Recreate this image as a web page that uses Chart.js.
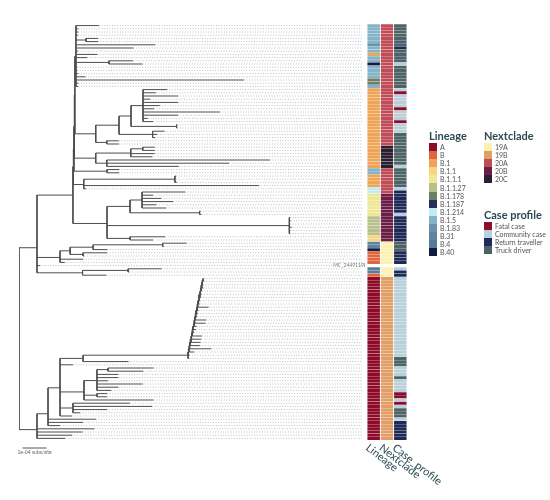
<!DOCTYPE html>
<html>
<head>
<meta charset="utf-8">
<script src="https://cdn.jsdelivr.net/npm/chart.js@4.4.1/dist/chart.umd.min.js"></script>
<style>
  body { margin: 0; background: #fff; font-family: Lato, "Open Sans", sans-serif; }
  #wrap { position: relative; width: 550px; height: 500px; overflow: hidden; }
  #tree { position: absolute; left: 0; top: 0; }
  #heat { position: absolute; left: 360px; top: 0; }
  .lg { position: absolute; color: #2d4a54; }
  .lg .t { font-size: 11px; font-weight: 700; line-height: 13px; height: 14px; white-space: nowrap; }
  .lg .it { display: flex; align-items: center; height: 8.1px; font-size: 7px; color: #555; white-space: nowrap; }
  .lg .sw { width: 8px; height: 8.1px; margin-right: 3px; flex: none; }
</style>
</head>
<body>
<div id="wrap">
  <canvas id="tree" width="365" height="500"></canvas>
  <canvas id="heat" width="100" height="500"></canvas>
  <div class="lg" id="lgLineage" style="left:429px;top:129px"></div>
  <div class="lg" id="lgNext" style="left:484px;top:129px"></div>
  <div class="lg" id="lgCase" style="left:484px;top:208px"></div>
</div>
<script>
document.addEventListener("DOMContentLoaded", function () {

  // legend categories and colours
  var lineageNames = ["A", "B", "B.1", "B.1.1", "B.1.1.1", "B.1.1.27", "B.1.178", "B.1.187", "B.1.214", "B.1.5", "B.1.83", "B.31", "B.4", "B.40"];
  var lineageColors = ["#8c0b29", "#e0643c", "#eea558", "#f7d581", "#efe796", "#b8bf8d", "#6e7e66", "#24305a", "#c4ebf3", "#82b3c8", "#6b91ab", "#5e83a0", "#5a7b98", "#121c42"];
  var nextcladeNames = ["19A", "19B", "20A", "20B", "20C"];
  var nextcladeColors = ["#fcf1b3", "#e19f68", "#bf4c57", "#6b1d46", "#2b1f2f"];
  var caseNames = ["Fatal case", "Community case", "Return traveller", "Truck driver"];
  var caseColors = ["#8e0b2b", "#b9d0da", "#1e2a56", "#4d6365"];
  var columns = ["Lineage", "Nextclade", "Case_profile"];

  // heatmap, top to bottom: [category, number of tips]
  var lineageRuns = [["B.1.5", 6], ["B.1.83", 1], ["B.1.5", 2], ["B.1", 1], ["B.1.5", 2], ["B.40", 1], ["B.1.5", 4], ["B.1.178", 2], ["B.1.5", 1], ["B.1", 25], ["B.1.5", 2], ["B.1", 4], ["B.1.214", 2], ["B.1.1.1", 7], ["B.1.1.27", 6], ["B.1.1", 2], ["B.31", 2], ["B.40", 1], ["B", 4], [null, 1], ["B.4", 2], ["B", 1], ["A", 51]];
  var nextcladeRuns = [["20A", 38], ["20C", 7], ["20A", 8], ["20B", 15], ["19A", 7], [null, 1], ["19A", 3], ["19B", 51]];
  var caseRuns = [["Truck driver", 7], ["Return traveller", 1], ["Truck driver", 4], ["Community case", 1], ["Truck driver", 7], ["Community case", 1], ["Fatal case", 1], ["Community case", 4], ["Fatal case", 1], ["Community case", 3], ["Fatal case", 1], ["Community case", 3], ["Truck driver", 10], ["Community case", 1], ["Truck driver", 6], ["Community case", 1], ["Return traveller", 7], ["Community case", 1], ["Return traveller", 8], ["Truck driver", 3], ["Return traveller", 4], [null, 1], ["Community case", 1], ["Return traveller", 2], ["Community case", 25], ["Truck driver", 3], ["Community case", 3], ["Truck driver", 1], ["Community case", 4], ["Fatal case", 2], ["Community case", 1], ["Fatal case", 1], ["Community case", 1], ["Truck driver", 3], ["Community case", 1], ["Return traveller", 6]];

  // tree: a tip is its branch length, a node is [branch length, ...children]
  // lengths in 1e-5 subs/site, tips in top to bottom order
  var groupTop = [0.45, 9.6, 1, 1, 0.8, [4.2, 5, 5], 33, 24, 0.8, 9, 4.6, [13.75, 10, 14], 0.5, 0.5, 1, 4, 70, 1, 1];
  var groupB1a = [8.7, [9.7, [5, [5, 10, 5.4, 14.6, 3, 14.6, 7, 4.6, 32, 14.6, 2, 4.2], [19, 0.3, 0.3]], [14, 5, 2, 1]], [4.6, 5, 5]];
  var groupB1b = [8.9, [14.6, [5, 5, 5], 10, 9], [4.6, 68, 51, 30]];
  var groupB15 = [13.8, 5, 5];
  var groupB1c = [4.3, [38, 0.5, 0.3, 0.8], 73, 1];
  var groupB11 = [14.2, [9.6, [5, 18, 4.6, 8, 13, 6, 10], [29, 0.4, 0.8]], [76, 0.3, 0.6, 0.3, 1, 0.5, 0.3], [9.6, 14.6, 9.6]];
  var groupB = [9.6, [4.2, [9.6, [29, 10, 0.5], 6], [5.4, 10, 0.5]], 9.6, 2];
  var refTip = 1.25;
  var groupB4 = [19, [19, 14, 0.5], 10];
  var ladderATips = [0.3, 0.3, 0.3, 0.5, 0.3, 0.5, 0.3, 0.5, 0.5, 4.5, 0.5, 0.5, 0.5, 4.5, 4.5, 1, 1, 0.5, 4, 4, 4, 4, 9, 2, 0.5, 0.5];
  var ladderASteps = [0.3, 0.2, 0.3, 0.3, 0.2, 0.4, 0.2, 0.3, 0.2, 0.3, 0.3, 0.2, 0.3, 0.2, 0.3, 0.3, 0.2, 0.3, 0.2, 0.3, 0.3, 0.2, 0.3, 0.2];
  var ladderAStem = 43.75;
  var groupQ = [10, [5.4, [4.6, 19, 14.6], 9, 9, 4.6, 19, 9, 6], [5.4, 4.2, 4.2], 29];
  var groupR = [5.4, 23.75, 33, [9.2, 5], 3];
  var refName = "MC_2449119B";

  var XMAX = 143;

  function expand(runs) {
    var out = [];
    runs.forEach(function (r) { for (var i = 0; i < r[1]; i++) out.push(r[0]); });
    return out;
  }
  var cells = [expand(lineageRuns), expand(nextcladeRuns), expand(caseRuns)];
  var nRows = cells[0].length;

  function buildLadder(stem, tips, steps) {
    var node = [steps[0], tips[0], tips[1]];
    for (var k = 2; k < tips.length; k++) {
      node = [k === tips.length - 1 ? stem : steps[k - 1], node, tips[k]];
    }
    return node;
  }
  var ladderA = buildLadder(ladderAStem, ladderATips, ladderASteps);

  var upper = [15, [0.2, [0.2, [0.2, [0.2, groupTop, groupB1a], groupB1b], groupB15], groupB1c], groupB11];
  var lower = [7.5, [4.6, [5, [9.6, ladderA, 19], 5.4, groupQ, groupR, 5], 20, 14.6, 5], 24, 19, 14.6, 11.7];
  var tree = [0, [7.5, upper, groupB, refTip, groupB4], lower];

  var branches = [], tips = [], row = 0;
  var gap = { x: null, y: null };
  function layout(node, px, isRoot) {
    if (typeof node === "number") {
      var tx = px + node, ty = row++;
      branches.push({ x: px, y: ty }, { x: tx, y: ty }, gap);
      tips.push({ x: tx, y: ty });
      return ty;
    }
    var x = px + node[0];
    var ys = node.slice(1).map(function (c) { return layout(c, x, false); });
    var y = ys.reduce(function (a, b) { return a + b; }, 0) / ys.length;
    branches.push({ x: x, y: Math.min.apply(null, ys) }, { x: x, y: Math.max.apply(null, ys) }, gap);
    if (!isRoot) branches.push({ x: px, y: y }, { x: x, y: y }, gap);
    return y;
  }
  layout(tree, 0, true);

  var refRow = cells[0].indexOf(null);
  var dots = [];
  tips.forEach(function (t) { dots.push({ x: t.x, y: t.y }, { x: XMAX, y: t.y }, gap); });

  var treeText = {
    id: "treeText",
    afterDatasetsDraw: function (chart) {
      var c = chart.ctx, xs = chart.scales.x, ys = chart.scales.y;
      c.save();
      c.font = "5px Lato, sans-serif";
      c.fillStyle = "#666";
      c.textAlign = "center";
      c.textBaseline = "middle";
      c.fillText("1e-04 subs/site", xs.getPixelForValue(6.5), ys.getPixelForValue(nRows + 3.3));
      var lx = xs.getPixelForValue(XMAX - 12), ly = ys.getPixelForValue(refRow);
      c.fillStyle = "#fff";
      c.fillRect(lx - 1, ly - 2.5, 27, 5);
      c.fillStyle = "#777";
      c.textAlign = "left";
      c.fillText(refName, lx, ly);
      c.restore();
    }
  };

  new Chart(document.getElementById("tree").getContext("2d"), {
    type: "scatter",
    data: {
      datasets: [
        { data: dots, showLine: true, spanGaps: false, pointRadius: 0, borderColor: "#b9bfc2", borderWidth: 1, borderDash: [1, 1.6] },
        { data: branches, showLine: true, spanGaps: false, pointRadius: 0, borderColor: "#4d4d4d", borderWidth: 1 },
        { data: [{ x: 1.5, y: nRows + 2 }, { x: 11.5, y: nRows + 2 }], showLine: true, pointRadius: 0, borderColor: "#555", borderWidth: 1, clip: false }
      ]
    },
    options: {
      responsive: false,
      animation: false,
      layout: { autoPadding: false, padding: { left: 19, right: 3, top: 24, bottom: 60 } },
      plugins: { legend: { display: false }, tooltip: { enabled: false } },
      scales: {
        x: { type: "linear", min: 0, max: XMAX, display: false },
        y: { type: "linear", min: -0.5, max: nRows - 0.5, reverse: true, display: false }
      }
    },
    plugins: [treeText]
  });

  var palettes = [
    { names: lineageNames, colors: lineageColors },
    { names: nextcladeNames, colors: nextcladeColors },
    { names: caseNames, colors: caseColors }
  ];

  var colLabels = {
    id: "colLabels",
    afterDraw: function (chart) {
      var c = chart.ctx, xs = chart.scales.x;
      c.save();
      c.font = "11px Lato, sans-serif";
      c.fillStyle = "#2d4a54";
      c.textBaseline = "top";
      columns.forEach(function (name, i) {
        c.save();
        c.translate(xs.getPixelForValue(i + 0.5) - 3, chart.chartArea.bottom + 2);
        c.rotate(38 * Math.PI / 180);
        c.fillText(name, 0, 0);
        c.restore();
      });
      c.restore();
    }
  };

  new Chart(document.getElementById("heat").getContext("2d"), {
    type: "bar",
    data: {
      labels: cells[0].map(function (_, i) { return String(i); }),
      datasets: cells.map(function (col, ci) {
        var p = palettes[ci];
        return {
          data: col.map(function (v) { return v ? [ci + 0.03, ci + 0.97] : null; }),
          backgroundColor: col.map(function (v) { return v ? p.colors[p.names.indexOf(v)] : "rgba(0,0,0,0)"; }),
          borderColor: "rgba(255,255,255,0.18)",
          borderWidth: { top: 0.5, bottom: 0, left: 0, right: 0 },
          borderSkipped: false,
          grouped: false, barPercentage: 1, categoryPercentage: 1
        };
      })
    },
    options: {
      indexAxis: "y",
      responsive: false,
      animation: false,
      layout: { autoPadding: false, padding: { left: 7, right: 53, top: 24, bottom: 60 } },
      plugins: { legend: { display: false }, tooltip: { enabled: false } },
      scales: {
        x: { type: "linear", min: 0, max: 3, display: false },
        y: { display: false }
      }
    },
    plugins: [colLabels]
  });

  function legend(id, title, names, colors) {
    var el = document.getElementById(id);
    var html = '<div class="t">' + title + '</div>';
    names.forEach(function (n, i) {
      html += '<div class="it"><span class="sw" style="background:' + colors[i] + '"></span>' + n + '</div>';
    });
    el.innerHTML = html;
  }
  legend("lgLineage", "Lineage", lineageNames, lineageColors);
  legend("lgNext", "Nextclade", nextcladeNames, nextcladeColors);
  legend("lgCase", "Case profile", caseNames, caseColors);
});
</script>
</body>
</html>
